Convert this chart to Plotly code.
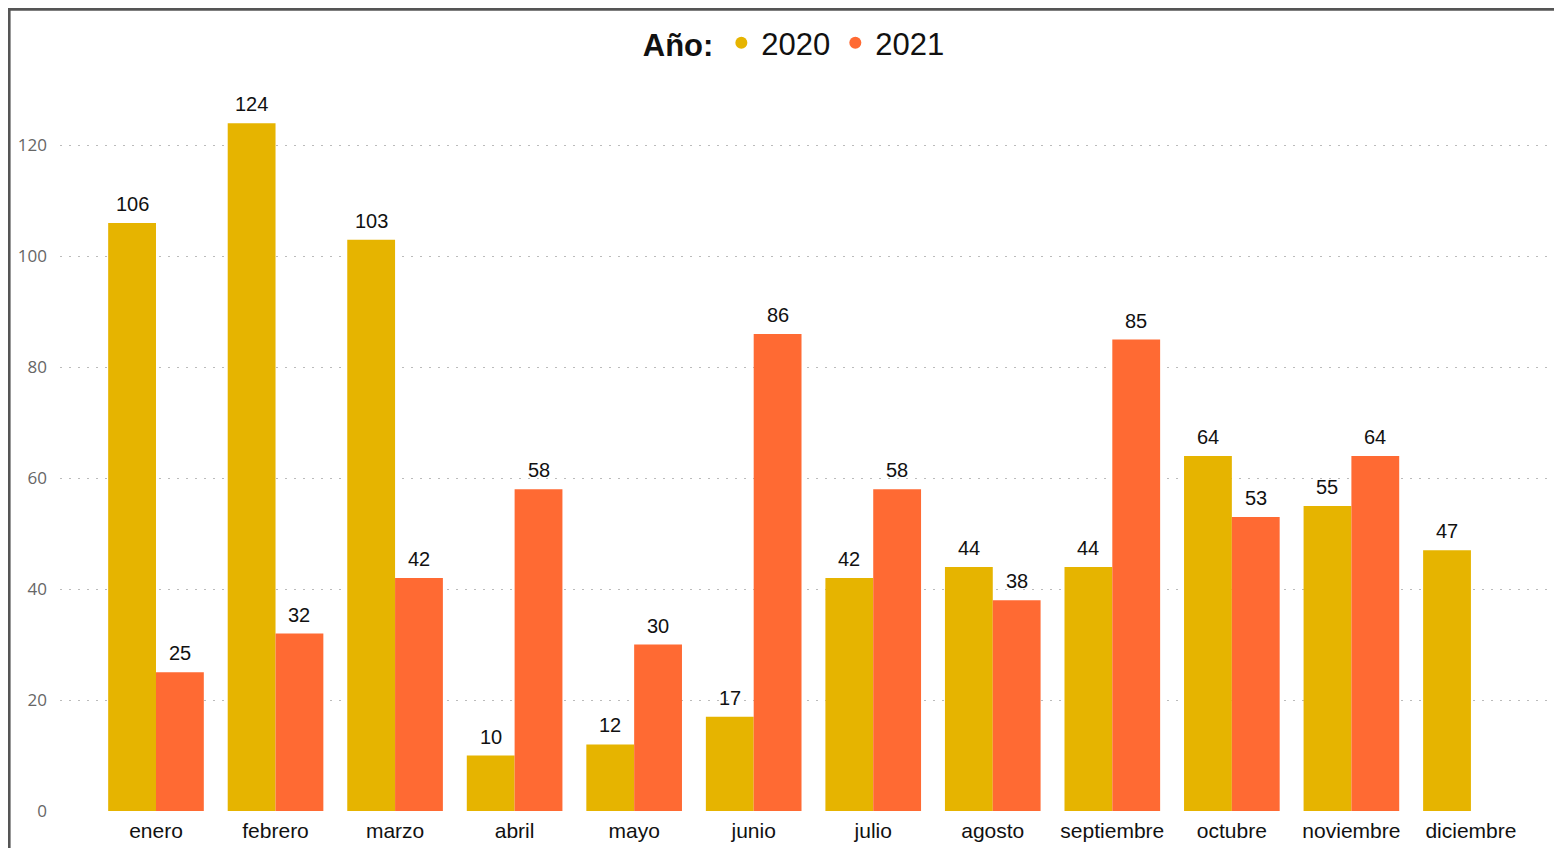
import plotly.graph_objects as go

months = ["enero", "febrero", "marzo", "abril", "mayo", "junio", "julio",
          "agosto", "septiembre", "octubre", "noviembre", "diciembre"]
values_2020 = [106, 124, 103, 10, 12, 17, 42, 44, 44, 64, 55, 47]
values_2021 = [25, 32, 42, 58, 30, 86, 58, 38, 85, 53, 64, None]
y_ticks = [0, 20, 40, 60, 80, 100, 120]

color_2020 = "#E6B400"
color_2021 = "#FF6A33"
FONT = "Liberation Sans, Arial, sans-serif"
label_font = dict(family=FONT, size=20, color="#111111")

fig = go.Figure()
series = [("2020", values_2020, color_2020, -1), ("2021", values_2021, color_2021, 1)]
for name, vals, col, _ in series:
    fig.add_trace(go.Bar(
        x=months, y=vals, name=name, marker=dict(color=col, line=dict(width=0)),
        showlegend=False,
    ))
for name, _, col, _ in series:
    fig.add_trace(go.Scatter(
        x=[None], y=[None], mode="markers", name=name,
        marker=dict(color=col, size=14, symbol="circle"), showlegend=True,
    ))

# data labels above each bar, positioned via the axes
plot_w = 1554 - 52 - 5
cat_px = plot_w / (11.72 + 0.803)
annotations = []
for name, vals, col, side in series:
    for m, v in zip(months, vals):
        if v is None:
            continue
        annotations.append(dict(
            x=m, y=v, xref="x", yref="y", text=str(v), showarrow=False,
            xanchor="center", yanchor="bottom", xshift=side * 0.2 * cat_px,
            yshift=6, font=label_font,
        ))

fig.update_layout(
    width=1554, height=840,
    margin=dict(l=52, r=5, t=82, b=37, autoexpand=False),
    paper_bgcolor="white", plot_bgcolor="white",
    barmode="group", bargap=0.2, bargroupgap=0,
    legend=dict(
        orientation="h", xref="container", yref="container",
        x=0.5066, xanchor="center", y=1 - 35 / 840, yanchor="middle",
        title=dict(text="<b>Año:</b>", font=dict(family=FONT, size=31, color="#111111")),
        font=dict(family=FONT, size=31, color="#111111"),
        itemsizing="constant", itemwidth=30, tracegroupgap=0,
        bgcolor="rgba(0,0,0,0)",
    ),
    xaxis=dict(
        type="category", range=[-0.803, 11.72], showgrid=False, zeroline=False,
        showline=False, ticks="", tickfont=dict(family=FONT, size=21, color="#111111"),
        ticklabelstandoff=5,
    ),
    yaxis=dict(
        range=[0, 130], tickvals=y_ticks, showgrid=True, gridcolor="#BBBBBB",
        griddash="2px,7px", gridwidth=1, zeroline=False, showline=False,
        tickfont=dict(family="Open Sans, Segoe UI, sans-serif", size=17, color="#666666"),
        ticklabelstandoff=12,
    ),
    annotations=annotations,
    shapes=[
        dict(type="line", xref="paper", yref="paper", x0=-0.034, x1=-0.034, y0=-0.1, y1=1.112,
             line=dict(color="#555555", width=3)),
        dict(type="line", xref="paper", yref="paper", x0=-0.035, x1=1.1, y0=1.112, y1=1.112,
             line=dict(color="#555555", width=3)),
    ],
)

fig.write_html("out.html")
